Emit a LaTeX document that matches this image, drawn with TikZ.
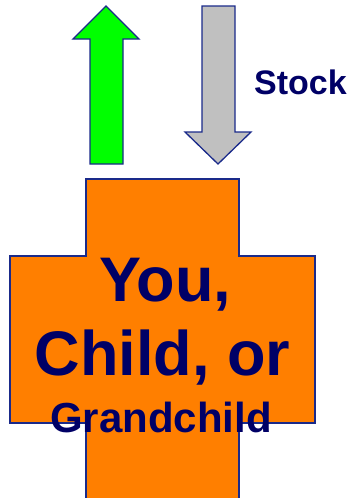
\documentclass[tikz,border=0pt]{standalone}
\usepackage{fontspec}
\setmainfont{Liberation Sans}
\definecolor{navy}{HTML}{000066}
\definecolor{edge}{HTML}{1A2A8A}
\definecolor{crossfill}{HTML}{FF7F00}
\definecolor{upfill}{HTML}{00FF00}
\definecolor{downfill}{HTML}{C0C0C0}
\begin{document}
\begin{tikzpicture}[x=1pt,y=-1pt,
  shapeline/.style={draw=edge, line width=1.3pt, line join=miter},
  lbl/.style={anchor=base, inner sep=0pt, text=navy, font=\bfseries}]
\useasboundingbox (0,0) rectangle (350,498);
% up arrow
\draw[shapeline, fill=upfill] (90,164) -- (90,39) -- (73,39) -- (106,6) -- (139,39) -- (123,39) -- (123,164) -- cycle;
% down arrow
\draw[shapeline, fill=downfill] (202,6) -- (235,6) -- (235,132) -- (251,132) -- (218,164) -- (185,132) -- (202,132) -- cycle;
% cross
\draw[shapeline, fill=crossfill] (86,504) -- (86,423) -- (10,423) -- (10,256) -- (86,256) -- (86,179) -- (239,179) -- (239,256) -- (315,256) -- (315,423) -- (239,423) -- (239,504);
\node[lbl, font=\bfseries\fontsize{34}{40}\selectfont] (stock) at (300.5,94) {Stock};
\node[lbl, font=\bfseries\fontsize{63}{70}\selectfont] (you) at (165.5,301) {You,};
\node[lbl, font=\bfseries\fontsize{63}{70}\selectfont] (child) at (162.5,375) {Child, or};
\node[lbl, font=\bfseries\fontsize{42}{48}\selectfont] (grand) at (161,432) {Grandchild};
\end{tikzpicture}
\end{document}
